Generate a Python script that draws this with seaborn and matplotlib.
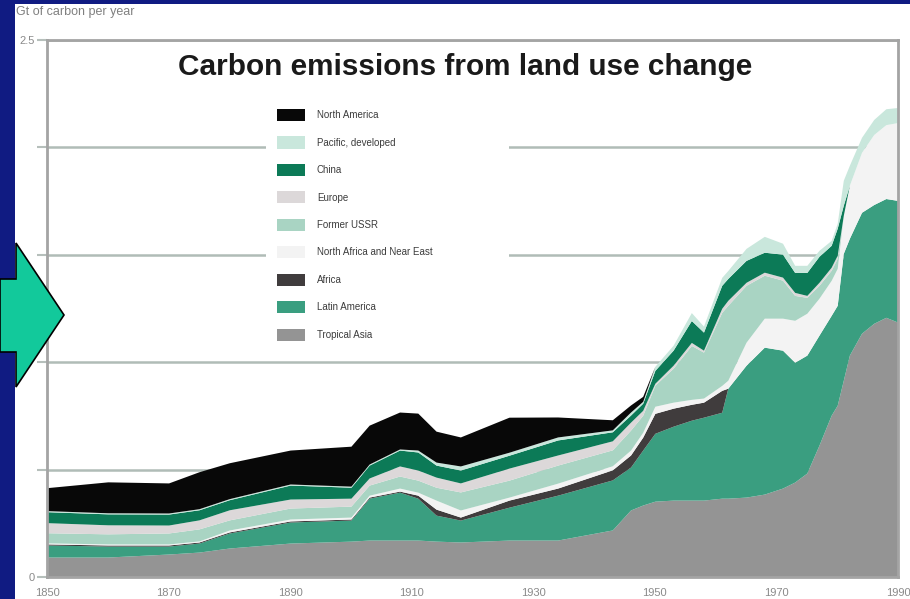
import numpy as np
import matplotlib
matplotlib.use("Agg")
import matplotlib.pyplot as plt
from matplotlib.patches import Rectangle, Polygon
import seaborn as sns

# Annual carbon emissions from land use change, Gt C per year, by region
years = [1850, 1860, 1870, 1875, 1880, 1890, 1900, 1903, 1908, 1911,
         1914, 1918, 1926, 1934, 1943, 1946, 1948, 1950, 1953, 1956,
         1958, 1961, 1962, 1965, 1968, 1971, 1973, 1975, 1977, 1979,
         1980, 1981, 1982, 1984, 1986, 1988, 1990]

tropical_asia = [0.093, 0.093, 0.107, 0.116, 0.135, 0.158, 0.167, 0.172, 0.172, 0.172,
                 0.167, 0.163, 0.172, 0.172, 0.219, 0.312, 0.335, 0.353, 0.358, 0.358,
                 0.358, 0.367, 0.367, 0.372, 0.386, 0.414, 0.442, 0.484, 0.614, 0.753,
                 0.800, 0.916, 1.033, 1.135, 1.181, 1.209, 1.186]
latin_america = [0.056, 0.051, 0.037, 0.042, 0.070, 0.098, 0.098, 0.195, 0.223, 0.195,
                 0.121, 0.102, 0.153, 0.209, 0.233, 0.200, 0.256, 0.316, 0.344, 0.372,
                 0.386, 0.400, 0.512, 0.614, 0.684, 0.642, 0.558, 0.549, 0.512, 0.465,
                 0.465, 0.591, 0.544, 0.563, 0.553, 0.553, 0.567]
africa = [0.005, 0.005, 0.005, 0.005, 0.005, 0.005, 0.005, 0.005, 0.005, 0.014,
          0.028, 0.014, 0.033, 0.033, 0.047, 0.056, 0.060, 0.093, 0.084, 0.074,
          0.070, 0.102, 0.0, 0.0, 0.0, 0.0, 0.0, 0.0, 0.0, 0.0,
          0.0, 0.0, 0.0, 0.0, 0.0, 0.0, 0.0]
north_africa_near_east = [0.005, 0.005, 0.005, 0.005, 0.009, 0.009, 0.009, 0.009, 0.014, 0.014,
                          0.042, 0.033, 0.014, 0.023, 0.019, 0.023, 0.023, 0.033, 0.028, 0.023,
                          0.019, 0.023, 0.037, 0.107, 0.135, 0.149, 0.195, 0.195, 0.172, 0.163,
                          0.172, 0.177, 0.247, 0.279, 0.326, 0.344, 0.363]
former_ussr = [0.047, 0.047, 0.051, 0.056, 0.047, 0.051, 0.051, 0.047, 0.056, 0.056,
               0.060, 0.084, 0.079, 0.084, 0.074, 0.093, 0.079, 0.098, 0.158, 0.251,
               0.214, 0.340, 0.349, 0.265, 0.200, 0.177, 0.116, 0.074, 0.060, 0.047,
               0.047, 0.0, 0.0, 0.0, 0.0, 0.0, 0.0]
europe = [0.047, 0.042, 0.037, 0.042, 0.047, 0.042, 0.037, 0.033, 0.047, 0.047,
          0.047, 0.042, 0.056, 0.047, 0.042, 0.037, 0.023, 0.009, 0.014, 0.014,
          0.009, 0.019, 0.023, 0.014, 0.014, 0.014, 0.014, 0.009, 0.014, 0.014,
          0.014, 0.0, 0.0, 0.0, 0.0, 0.0, 0.0]
china = [0.051, 0.051, 0.051, 0.047, 0.047, 0.065, 0.051, 0.060, 0.074, 0.084,
         0.056, 0.060, 0.060, 0.070, 0.042, 0.033, 0.033, 0.060, 0.070, 0.102,
         0.084, 0.107, 0.102, 0.102, 0.093, 0.107, 0.093, 0.107, 0.121, 0.102,
         0.126, 0.047, 0.0, 0.0, 0.0, 0.0, 0.0]
pacific_developed = [0.005, 0.005, 0.005, 0.005, 0.005, 0.005, 0.005, 0.005, 0.005, 0.009,
                     0.014, 0.019, 0.014, 0.014, 0.009, 0.014, 0.009, 0.019, 0.023, 0.037,
                     0.028, 0.037, 0.037, 0.056, 0.074, 0.051, 0.033, 0.033, 0.028, 0.023,
                     0.023, 0.116, 0.093, 0.070, 0.070, 0.074, 0.070]
north_america = [0.107, 0.144, 0.140, 0.172, 0.167, 0.158, 0.186, 0.181, 0.172, 0.172,
                 0.144, 0.135, 0.163, 0.093, 0.047, 0.033, 0.023, 0.0, 0.0, 0.0,
                 0.0, 0.0, 0.0, 0.0, 0.0, 0.0, 0.0, 0.0, 0.0, 0.0,
                 0.0, 0.0, 0.0, 0.0, 0.0, 0.0, 0.0]

# stacking order, bottom to top
region_names = ["Tropical Asia", "Latin America", "Africa", "North Africa and Near East",
                "Former USSR", "Europe", "China", "Pacific, developed", "North America"]
region_values = [tropical_asia, latin_america, africa, north_africa_near_east,
                 former_ussr, europe, china, pacific_developed, north_america]
region_colors = ["#949494", "#3a9e80", "#403c3d", "#f3f3f3",
                 "#a9d4c3", "#dcd8d9", "#0c7a57", "#c9e7dc", "#080808"]

x_ticks = [1850, 1870, 1890, 1910, 1930, 1950, 1970, 1990]
y_ticks = [0, 0.5, 1.0, 1.5, 2.0, 2.5]
y_tick_labels = ["0", "", "", "", "", "2.5"]

sns.set_theme(style="white")
plt.rcParams["font.family"] = ["Liberation Sans", "DejaVu Sans"]

W, H = 910, 599
fig = plt.figure(figsize=(W / 100, H / 100), dpi=100, facecolor="#101b82")


def fx(px):
    return px / W


def fy(py):
    return 1 - py / H


# white slide panel inside the navy border
fig.patches.append(Rectangle((fx(15), 0), 1 - fx(15), fy(4), transform=fig.transFigure,
                             facecolor="white", edgecolor="none", zorder=-1))

ax = fig.add_axes([fx(47), fy(577), fx(898) - fx(47), fy(40) - fy(577)])
ax.set_facecolor("white")
ax.set_axisbelow(True)

polys = ax.stackplot(years, *region_values, labels=region_names, colors=region_colors,
                     linewidth=0, zorder=2)

ax.set_xlim(1850, 1990)
ax.set_ylim(0, 2.5)
ax.set_xticks(x_ticks)
ax.set_xticklabels([str(t) for t in x_ticks])
ax.set_yticks(y_ticks)
ax.set_yticklabels(y_tick_labels)
ax.tick_params(axis="x", length=0, pad=8, labelsize=8, labelcolor="#8a8a8a")
ax.tick_params(axis="y", left=True, length=7, width=1.5, color="#b6bfbb", pad=2,
               labelsize=8, labelcolor="#8a8a8a")
ax.yaxis.grid(True, color="#b0bcb7", linewidth=1.8)
ax.xaxis.grid(False)
for side in ax.spines.values():
    side.set_color("#a4a4a4")
    side.set_linewidth(2)

# clear band behind the legend
ax.add_patch(Rectangle((fx(266), fy(352)), fx(509) - fx(266), fy(97) - fy(352),
                       transform=fig.transFigure, facecolor="white", edgecolor="none", zorder=1))

handles, labels = ax.get_legend_handles_labels()
leg = ax.legend(handles[::-1], labels[::-1], loc="upper left",
                bbox_to_anchor=(fx(277), fy(109)), bbox_transform=fig.transFigure,
                frameon=False, fontsize=7, handlelength=2.9, handleheight=1.55,
                labelspacing=1.57, handletextpad=1.2, borderpad=0, borderaxespad=0)
for t in leg.get_texts():
    t.set_color("#3c3c3c")

fig.text(fx(465), fy(67), "Carbon emissions from land use change", ha="center", va="center",
         fontsize=21.4, fontweight="bold", color="#1a1a1a")
fig.text(fx(16), fy(12), "Gt of carbon per year", ha="left", va="center",
         fontsize=9, color="#808080")

# green arrow pointing into the chart
arrow_pts = [(0, 279), (16, 279), (16, 243), (64, 315), (16, 387), (16, 352), (0, 352)]
fig.patches.append(Polygon([(fx(px), fy(py)) for px, py in arrow_pts], closed=True,
                           transform=fig.transFigure, facecolor="#12c99b",
                           edgecolor="black", linewidth=1.2, zorder=5))

fig.savefig("out.png", dpi=100, facecolor=fig.get_facecolor())
